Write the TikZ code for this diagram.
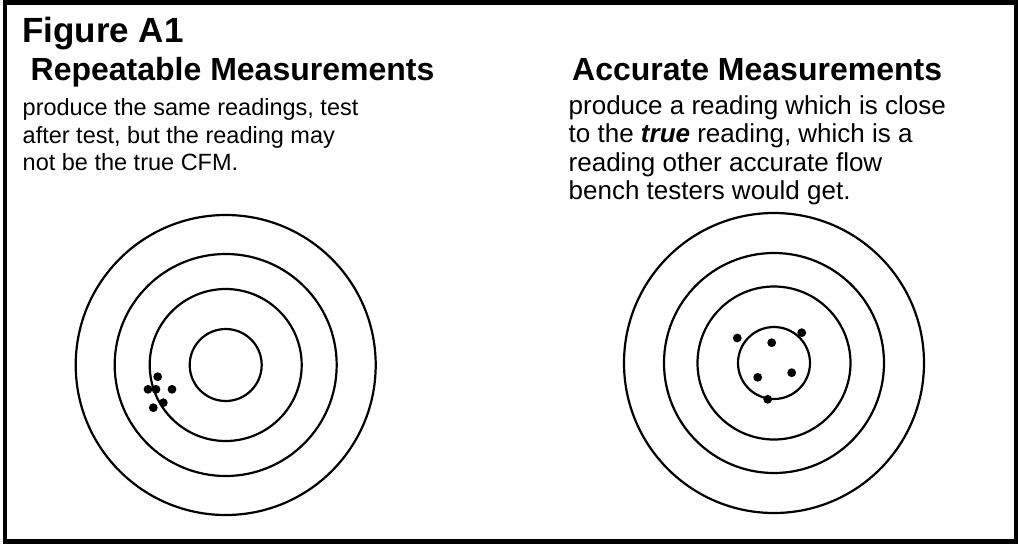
\documentclass[tikz,border=0pt]{standalone}
\usepackage{fontspec}
\setmainfont{Liberation Sans}
\usetikzlibrary{positioning}

\begin{document}
\begin{tikzpicture}[x=1pt, y=-1pt,
    figtitle/.style={anchor=base west, inner sep=0pt,
                     font=\fontsize{35}{40}\selectfont\bfseries},
    hdr/.style={anchor=base west, inner sep=0pt,
                font=\fontsize{32}{36}\selectfont\bfseries},
    bodyl/.style={anchor=base west, inner sep=0pt,
                  font=\fontsize{23.5}{27}\selectfont},
    bodyr/.style={anchor=base west, inner sep=0pt,
                  font=\fontsize{26}{29}\selectfont},
    ring/.style={line width=2.2pt},
    shot/.style={fill=black}
  ]
    \useasboundingbox (0,0) rectangle (1018,544);
    % Frame
    \draw[line width=4.5pt] (5,2.5) rectangle (1016,541.5);

    % Titles
    \node[figtitle] (fig) at (22,42) {Figure A1};
    \node[hdr] (rep) at (30.5,80) {Repeatable Measurements};
    \node[hdr] (acc) at (572,80)  {Accurate Measurements};

    % Left text
    \node[bodyl] (rep1) at (22.5,115.5) {produce the same readings, test};
    \node[bodyl] (rep2) at (22.5,143.2) {after test, but the reading may};
    \node[bodyl] (rep3) at (22.5,170.8) {not be the true CFM.};

    % Right text
    \node[bodyr] (acc1) at (568.5,114)   {produce a reading which is close};
    \node[bodyr] (acc2) at (568.5,142.5) {to the \textbf{\textit{true}} reading, which is a};
    \node[bodyr] (acc3) at (568.5,171)   {reading other accurate flow};
    \node[bodyr] (acc4) at (568.5,199.5) {bench testers would get.};

    % Left target
    \draw[ring] (225.7,365) circle (150);
    \draw[ring] (225.7,365) circle (111);
    \draw[ring] (225.7,365) circle (76);
    \draw[ring] (225.7,365) circle (36);
    \fill[shot] (157.7,376.7) circle (4.4);
    \fill[shot] (148,389.3)   circle (4.4);
    \fill[shot] (156,389.3)   circle (4.4);
    \fill[shot] (172,389.3)   circle (4.4);
    \fill[shot] (163.3,402.7) circle (4.4);
    \fill[shot] (153.3,407.7) circle (4.4);

    % Right target
    \draw[ring] (774,363) circle (150);
    \draw[ring] (774,363) circle (110);
    \draw[ring] (774,363) circle (76.5);
    \draw[ring] (774,363) circle (36);
    \fill[shot] (737.3,338)   circle (4.4);
    \fill[shot] (771.7,342.7) circle (4.4);
    \fill[shot] (801.7,332.7) circle (4.4);
    \fill[shot] (757.7,377.3) circle (4.4);
    \fill[shot] (791.7,372.7) circle (4.4);
    \fill[shot] (767.7,399.3) circle (4.4);
  \end{tikzpicture}
\end{document}
